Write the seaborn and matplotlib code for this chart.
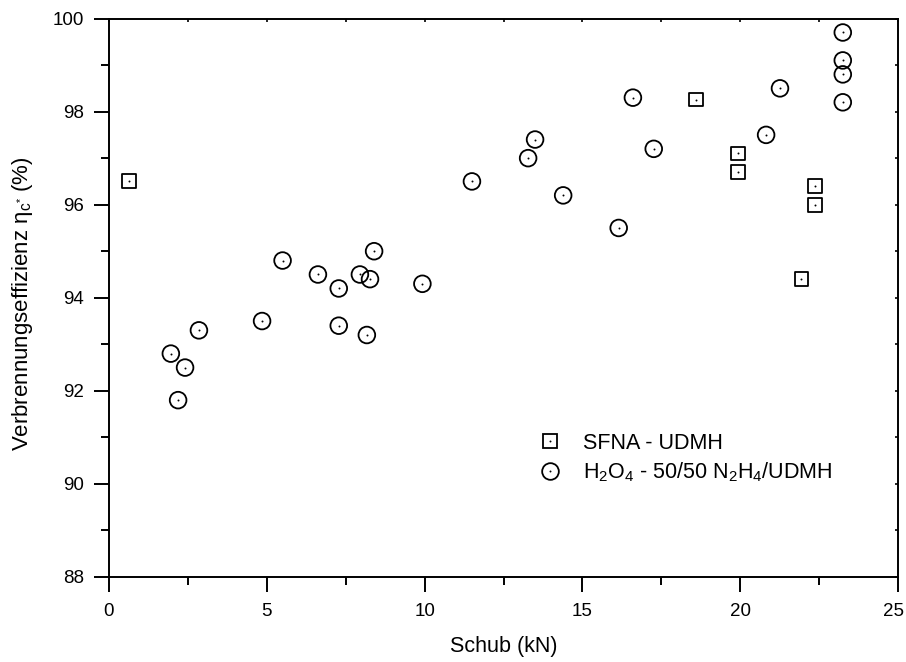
import matplotlib
matplotlib.use("Agg")
import matplotlib.pyplot as plt
import matplotlib.transforms as mtransforms
from matplotlib.legend_handler import HandlerTuple
from matplotlib.lines import Line2D
import seaborn as sns
import pandas as pd

# --- data -------------------------------------------------------------
sfna_x = [0.64, 18.6, 19.92, 19.92, 22.36, 22.36, 21.94]
sfna_y = [96.5, 98.26, 97.1, 96.7, 96.4, 96.0, 94.4]

h2o4_x = [1.96, 2.19, 2.41, 2.85, 4.85, 5.5, 6.62, 7.28, 7.28, 7.95, 8.17, 8.27,
          8.4, 9.93, 11.5, 13.28, 13.5, 14.39, 16.15, 16.6, 17.26, 20.82, 21.26,
          23.25, 23.25, 23.25, 23.25]
h2o4_y = [92.8, 91.8, 92.5, 93.3, 93.5, 94.8, 94.5, 94.2, 93.4, 94.5, 93.2, 94.4,
          95.0, 94.3, 96.5, 97.0, 97.4, 96.2, 95.5, 98.3, 97.2, 97.5, 98.5,
          99.7, 99.1, 98.8, 98.2]

label_sfna = "SFNA - UDMH"
label_h2o4 = r"H$_2$O$_4$ - 50/50 N$_2$H$_4$/UDMH"
x_label = "Schub (kN)"
y_label = r"Verbrennungseffizienz $\eta_{c^{*}}$ (%)"
x_ticks = [0, 5, 10, 15, 20, 25]
x_minor = [2.5, 7.5, 12.5, 17.5, 22.5]
y_ticks = [88, 90, 92, 94, 96, 98, 100]
y_minor = [89, 91, 93, 95, 97, 99]

df_sfna = pd.DataFrame({"x": sfna_x, "y": sfna_y})
df_h2o4 = pd.DataFrame({"x": h2o4_x, "y": h2o4_y})

# --- style ------------------------------------------------------------
sns.set_theme(style="white")
plt.rcParams["font.family"] = ["Liberation Sans", "DejaVu Sans"]
plt.rcParams["text.color"] = "black"
plt.rcParams["axes.labelcolor"] = "black"
plt.rcParams["mathtext.default"] = "regular"
plt.rcParams["mathtext.fontset"] = "custom"
plt.rcParams["mathtext.rm"] = "Liberation Sans"
plt.rcParams["mathtext.it"] = "Liberation Sans:italic"

fig = plt.figure(figsize=(9.06, 6.62), dpi=100)
ax = fig.add_axes([0.1203, 0.1284, 0.8709, 0.8436])

lw = 1.3
sns.scatterplot(data=df_sfna, x="x", y="y", marker="s", s=100,
                facecolor="none", edgecolor="black", linewidth=lw, ax=ax, zorder=3)
sns.scatterplot(data=df_sfna, x="x", y="y", marker="o", s=2,
                color="black", linewidth=0, ax=ax, zorder=4)
sns.scatterplot(data=df_h2o4, x="x", y="y", marker="o", s=144,
                facecolor="none", edgecolor="black", linewidth=lw, ax=ax, zorder=3)
sns.scatterplot(data=df_h2o4, x="x", y="y", marker="o", s=2,
                color="black", linewidth=0, ax=ax, zorder=4)

ax.set_xlim(0, 25)
ax.set_ylim(88, 100)
ax.set_xticks(x_ticks)
ax.set_yticks(y_ticks)
ax.set_xticks(x_minor, minor=True)
ax.set_yticks(y_minor, minor=True)

for sp in ax.spines.values():
    sp.set_visible(True)
    sp.set_color("black")
    sp.set_linewidth(1.4)

ax.tick_params(axis="both", which="major", direction="out", length=11, width=1.4,
               color="black", labelsize=13.5, labelcolor="black",
               bottom=True, left=True, top=False, right=False)
ax.tick_params(axis="x", which="major", pad=8)
ax.tick_params(axis="y", which="major", pad=7)
ax.tick_params(axis="both", which="minor", direction="out", length=5.5, width=1.4,
               color="black", bottom=True, left=True, top=False, right=False)

# keep the last x tick label inside the figure edge
last_lbl = ax.xaxis.get_major_ticks()[-1].label1
last_lbl.set_transform(last_lbl.get_transform() +
                       mtransforms.ScaledTranslation(-0.05, 0, fig.dpi_scale_trans))

# inward ticks on top / right edges
axt = ax.twiny()
axt.set_xlim(ax.get_xlim())
axt.set_xticks(x_ticks)
axt.set_xticks(x_minor, minor=True)
axt.tick_params(axis="x", which="both", direction="in", length=2.5, width=1.2,
                color="black", top=True, bottom=False, labeltop=False, labelbottom=False)
axr = ax.twinx()
axr.set_ylim(ax.get_ylim())
axr.set_yticks(y_ticks)
axr.set_yticks(y_minor, minor=True)
axr.tick_params(axis="y", which="both", direction="in", length=2.5, width=1.2,
                color="black", right=True, left=False, labelright=False, labelleft=False)
for a in (axt, axr):
    for sp in a.spines.values():
        sp.set_visible(False)

ax.set_xlabel(x_label, fontsize=15.5, color="black")
ax.set_ylabel(y_label, fontsize=16, color="black")
ax.xaxis.set_label_coords(0.5, -0.106)
ax.yaxis.set_label_coords(-0.094, 0.49)

h_sq = (Line2D([], [], marker="s", ms=10, mfc="none", mec="black", mew=lw, ls="none"),
        Line2D([], [], marker="o", ms=1.4, mfc="black", mec="black", mew=0, ls="none"))
h_ci = (Line2D([], [], marker="o", ms=12, mfc="none", mec="black", mew=lw, ls="none"),
        Line2D([], [], marker="o", ms=1.4, mfc="black", mec="black", mew=0, ls="none"))
leg = ax.legend([h_sq, h_ci], [label_sfna, label_h2o4],
                handler_map={tuple: HandlerTuple(ndivide=1, pad=0)},
                loc="center left", bbox_to_anchor=(0.545, 0.2125), frameon=False,
                fontsize=15.5, handlelength=1.0, handletextpad=1.03, labelspacing=0.3,
                borderaxespad=0, borderpad=0, labelcolor="black")

fig.savefig("out.png", dpi=100)
